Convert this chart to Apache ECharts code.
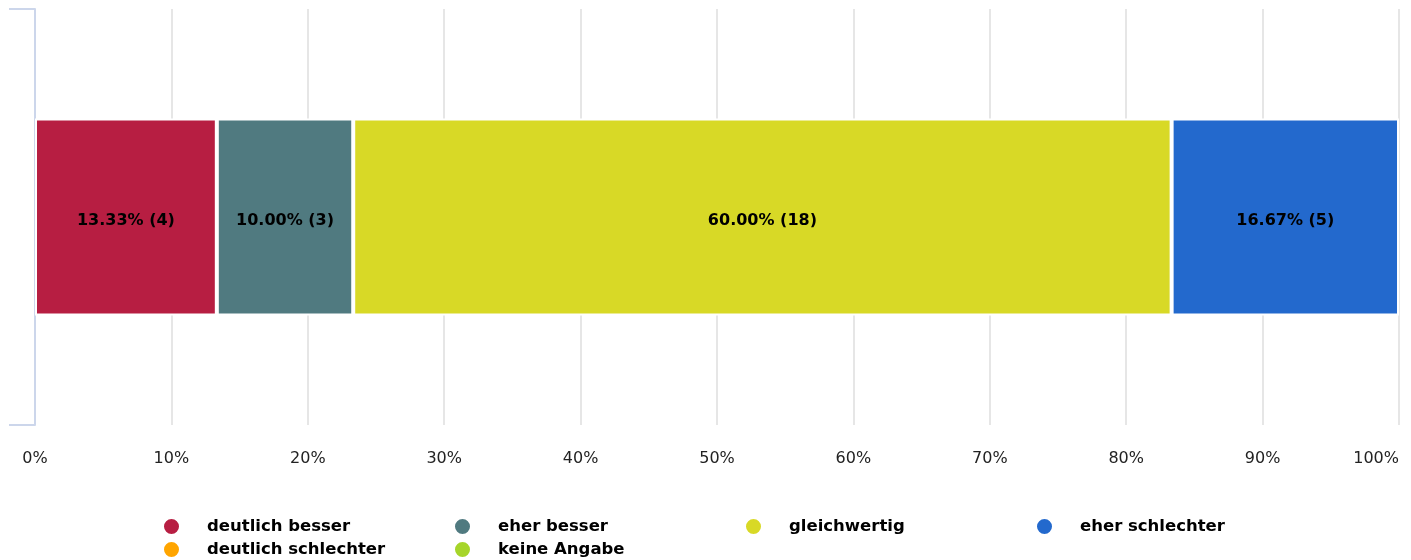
<!DOCTYPE html>
<html>
<head>
<meta charset="utf-8">
<script src="https://cdn.jsdelivr.net/npm/echarts@6/dist/echarts.min.js"></script>
<style>html,body{margin:0;padding:0;background:#fff}#c{width:1411px;height:560px}</style>
</head>
<body>
<div id="c"></div>
<script>
const categories = [''];
const seriesNames = ['deutlich besser', 'eher besser', 'gleichwertig', 'eher schlechter', 'deutlich schlechter', 'keine Angabe'];
const percentValues = [13.33, 10.00, 60.00, 16.67, 0, 0];
const countValues = [4, 3, 18, 5, 0, 0];
const seriesColors = ['#b71e42', '#507a80', '#d8d926', '#2369cd', '#ffa500', '#a6d52a'];
const xTicks = [0, 10, 20, 30, 40, 50, 60, 70, 80, 90, 100];

const FONT = '"DejaVu Sans", sans-serif';
const chart = echarts.init(document.getElementById('c'), null, {renderer: 'canvas'});

const series = seriesNames.map((name, i) => ({
  name: name,
  type: 'bar',
  stack: 'total',
  barWidth: 197,
  data: percentValues[i] > 0 ? [{value: percentValues[i], count: countValues[i]}] : [],
  itemStyle: {color: seriesColors[i], borderColor: '#fff', borderWidth: 2},
  label: {
    show: true,
    position: 'inside',
    offset: [0, 4],
    color: '#000',
    fontFamily: FONT,
    fontWeight: 'bold',
    fontSize: 16,
    formatter: p => p.value.toFixed(2) + '% (' + p.data.count + ')'
  }
}));

const LEGEND_COLS = 4;
const legends = seriesNames.map((name, i) => ({
  show: true,
  padding: 0,
  left: 162 + (i % LEGEND_COLS) * 291,
  top: 517 + Math.floor(i / LEGEND_COLS) * 23,
  orient: 'horizontal',
  icon: 'circle',
  itemWidth: 17,
  itemHeight: 17,
  data: [name],
  textStyle: {
    color: '#000',
    fontFamily: FONT,
    fontWeight: 'bold',
    fontSize: 16.5,
    padding: [0, 0, 0, 22]
  }
}));

chart.setOption({
  animation: false,
  color: seriesColors,
  grid: {left: 35, right: 12, top: 9, bottom: 135, outerBoundsMode: 'none', containLabel: false},
  xAxis: {
    type: 'value',
    min: xTicks[0],
    max: xTicks[xTicks.length - 1],
    interval: 10,
    axisLine: {show: false},
    axisTick: {show: false},
    splitLine: {show: true, lineStyle: {color: '#e6e6e6', width: 2}},
    axisLabel: {
      margin: 26,
      color: '#222',
      fontFamily: FONT,
      fontSize: 16,
      alignMaxLabel: 'right',
      formatter: v => v + '%'
    }
  },
  yAxis: {
    type: 'category',
    data: categories,
    boundaryGap: true,
    axisLine: {show: true, lineStyle: {color: '#ccd6eb', width: 2}},
    axisTick: {show: true, length: 26, lineStyle: {color: '#ccd6eb', width: 2}},
    axisLabel: {show: false},
    splitLine: {show: false}
  },
  legend: legends,
  series: series
});
</script>
</body>
</html>
